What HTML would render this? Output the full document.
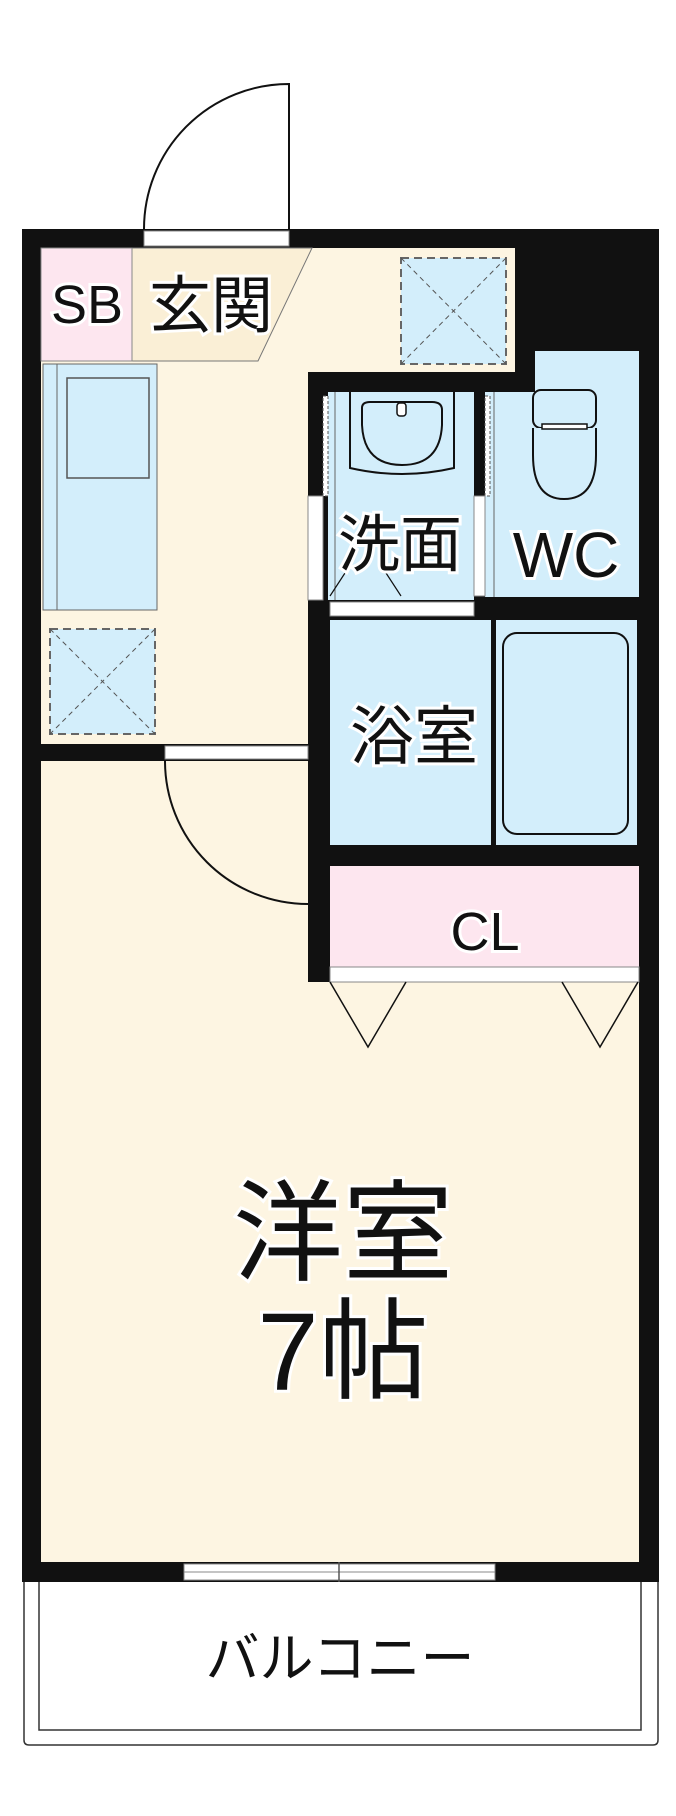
<!DOCTYPE html>
<html><head><meta charset="utf-8"><style>
html,body{margin:0;padding:0;background:#fff;}
svg{display:block}
text{font-family:"Liberation Sans","Noto Sans CJK JP",sans-serif;fill:#111;stroke:#fff;stroke-width:6;paint-order:stroke;}
</style></head><body>
<svg width="676" height="1816" viewBox="0 0 676 1816" xmlns="http://www.w3.org/2000/svg">
<!-- entrance door -->
<path d="M144 229 A145 145 0 0 1 289 84 L289 229" fill="none" stroke="#111" stroke-width="2"/>
<!-- outer black mass -->
<rect x="22" y="229" width="637" height="1353" fill="#111"/>
<!-- corridor beige -->
<rect x="41" y="248" width="474" height="124" fill="#fdf5e2"/>
<rect x="41" y="248" width="267" height="496" fill="#fdf5e2"/>
<!-- genkan -->
<polygon points="132,248 312,248 258,361 132,361" fill="#faefd6" stroke="#777" stroke-width="1"/>
<rect x="41" y="248" width="91" height="113" fill="#fde6ef" stroke="#888" stroke-width="1"/>
<!-- entrance threshold -->
<rect x="144" y="231" width="145" height="15" fill="#fff" stroke="#888" stroke-width="1"/>
<!-- dashed box top -->
<rect x="401" y="258" width="105" height="106" fill="#d3eefb" stroke="#666" stroke-width="2" stroke-dasharray="8,5"/>
<path d="M401 258 L506 364 M506 258 L401 364" stroke="#555" stroke-width="1" stroke-dasharray="5,4"/>
<!-- kitchen -->
<rect x="43" y="364" width="114" height="246" fill="#d3eefb" stroke="#666" stroke-width="1"/>
<line x1="57" y1="364" x2="57" y2="610" stroke="#666" stroke-width="1"/>
<rect x="67" y="378" width="82" height="100" fill="#d3eefb" stroke="#555" stroke-width="1.5"/>
<!-- dashed box lower -->
<rect x="50" y="629" width="105" height="105" fill="#d3eefb" stroke="#666" stroke-width="2" stroke-dasharray="8,5"/>
<path d="M50 629 L155 734 M155 629 L50 734" stroke="#555" stroke-width="1" stroke-dasharray="5,4"/>
<!-- main room -->
<rect x="41" y="761" width="598" height="801" fill="#fdf5e2"/>
<rect x="308" y="744" width="20" height="238" fill="#111"/>
<rect x="308" y="761" width="331" height="221" fill="#111"/>
<!-- door to room -->
<rect x="165" y="746" width="143" height="13" fill="#fff" stroke="#888" stroke-width="1"/>
<path d="M165 761 A143 143 0 0 0 308 904" fill="none" stroke="#111" stroke-width="2"/>
<!-- WC -->
<rect x="535" y="351" width="104" height="246" fill="#d3eefb"/>
<rect x="485" y="392" width="154" height="205" fill="#d3eefb"/>
<line x1="494" y1="392" x2="494" y2="597" stroke="#666" stroke-width="1"/>
<!-- wash -->
<rect x="328" y="392" width="146" height="208" fill="#d3eefb"/>
<line x1="335" y1="392" x2="335" y2="600" stroke="#666" stroke-width="1"/>
<rect x="323" y="396" width="5" height="100" fill="#fff" stroke="#555" stroke-width="1" stroke-dasharray="3,2"/>
<rect x="485" y="396" width="5" height="100" fill="#fff" stroke="#555" stroke-width="1" stroke-dasharray="3,2"/>
<rect x="308" y="496" width="15" height="104" fill="#fff" stroke="#888" stroke-width="1"/>
<rect x="474" y="496" width="11" height="100" fill="#fff" stroke="#888" stroke-width="1"/>
<rect x="330" y="602" width="144" height="14" fill="#fff" stroke="#888" stroke-width="1"/>
<path d="M330 596 L345 573 M386 573 L401 596" stroke="#111" stroke-width="1.2"/>
<!-- sink -->
<path d="M350 392 L350 468 Q402 480 454 468 L454 392" fill="#d3eefb" stroke="#111" stroke-width="2"/>
<path d="M362 408 Q362 402 370 402 L432 402 Q442 402 442 410 L442 425 Q440 465 402 465 Q364 465 362 425 Z" fill="#d3eefb" stroke="#111" stroke-width="2"/>
<rect x="397" y="403" width="9" height="13" rx="3" fill="#fff" stroke="#111" stroke-width="1.5"/>
<!-- toilet -->
<rect x="533" y="390" width="63" height="38" rx="8" fill="#d3eefb" stroke="#111" stroke-width="2"/>
<path d="M533 428 L533 455 Q533 499 564 499 Q596 499 596 455 L596 428" fill="#d3eefb" stroke="#111" stroke-width="2"/>
<rect x="542" y="424" width="45" height="5" fill="#fff" stroke="#111" stroke-width="1.5"/>
<!-- bath -->
<rect x="330" y="620" width="161" height="225" fill="#d3eefb"/>
<rect x="496" y="620" width="141" height="225" fill="#d3eefb"/>
<rect x="503" y="633" width="125" height="201" rx="14" fill="#d3eefb" stroke="#111" stroke-width="2"/>
<!-- CL -->
<rect x="330" y="866" width="309" height="101" fill="#fde6ef"/>
<rect x="330" y="967" width="309" height="15" fill="#fff" stroke="#888" stroke-width="1"/>
<path d="M330 982 L368 1047 L406 982 M562 982 L600 1047 L638 982" fill="none" stroke="#111" stroke-width="1.5"/>
<!-- window -->
<rect x="184" y="1564" width="311" height="16" fill="#fff" stroke="#888" stroke-width="1"/>
<line x1="184" y1="1572" x2="495" y2="1572" stroke="#888" stroke-width="1"/>
<line x1="339" y1="1562" x2="339" y2="1582" stroke="#555" stroke-width="1.5"/>
<!-- balcony -->
<path d="M24 1582 L24 1740 Q24 1745 29 1745 L653 1745 Q658 1745 658 1740 L658 1582" fill="none" stroke="#333" stroke-width="1.5"/>
<path d="M39 1582 L39 1730 L641 1730 L641 1582" fill="none" stroke="#333" stroke-width="1.5"/>
<!-- labels -->
<text x="87" y="323" font-size="54" text-anchor="middle">SB</text>
<text x="211" y="327" font-size="62" text-anchor="middle">玄関</text>
<text x="400" y="566" font-size="62" text-anchor="middle">洗面</text>
<text x="566" y="577" font-size="64" text-anchor="middle">WC</text>
<text x="414" y="759" font-size="64" text-anchor="middle">浴室</text>
<text x="485" y="950" font-size="54" text-anchor="middle">CL</text>
<text x="343" y="1272" font-size="110" text-anchor="middle">洋室</text>
<text x="343" y="1390" font-size="110" text-anchor="middle">7帖</text>
<text x="340" y="1677" font-size="54" text-anchor="middle" stroke-width="0">バルコニー</text>
</svg>
</body></html>
